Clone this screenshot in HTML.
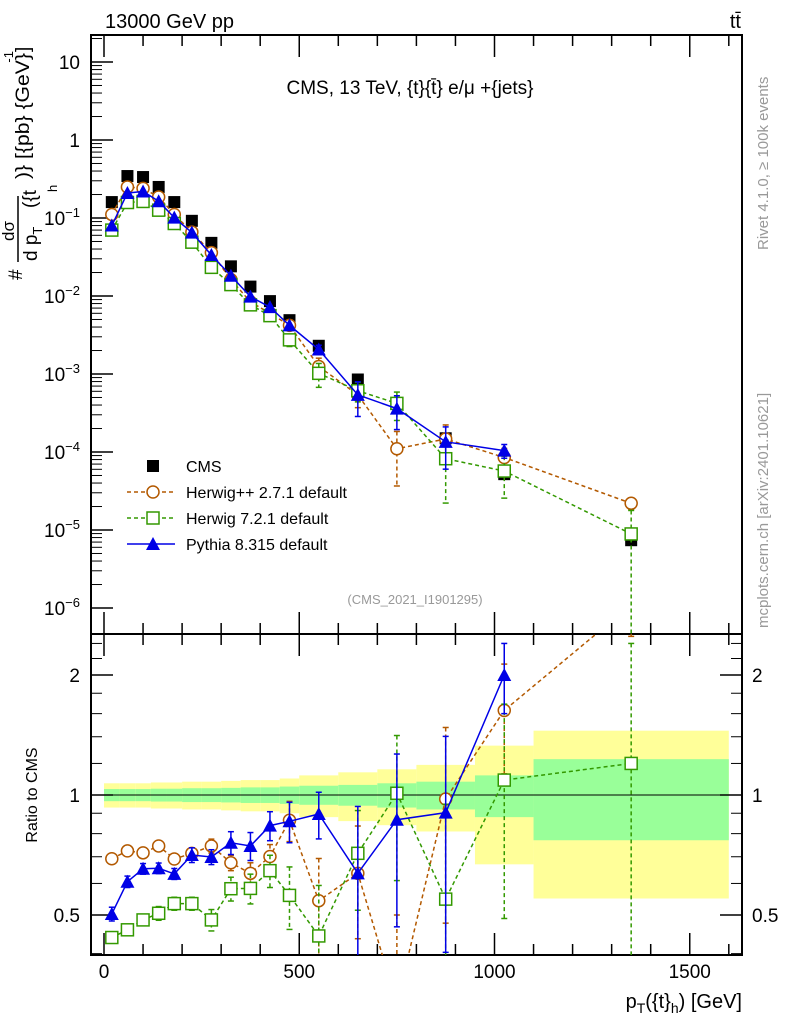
<!DOCTYPE html>
<html><head><meta charset="utf-8"><style>
html,body{margin:0;padding:0;background:#fff;}
svg text{font-family:"Liberation Sans",sans-serif;}
</style></head><body>
<svg id="chart" width="786" height="1024" xmlns="http://www.w3.org/2000/svg">
<g id="bands"></g>
<g id="grid"></g>
<g id="marks"></g>
<text x="105" y="28" font-size="20">13000 GeV pp</text>
<text x="741" y="28" font-size="20" text-anchor="end">tt̄</text>
<text x="410" y="94" font-size="19" text-anchor="middle">CMS, 13 TeV, {t}{t̄} e/μ +{jets}</text>
<text x="415" y="604" font-size="13" fill="#999" text-anchor="middle">(CMS_2021_I1901295)</text>
<text transform="translate(768,250) rotate(-90)" font-size="15" fill="#999">Rivet 4.1.0, ≥ 100k events</text>
<text transform="translate(768,628) rotate(-90)" font-size="15" fill="#999">mcplots.cern.ch [arXiv:2401.10621]</text>
<g transform="rotate(-90)">
<text x="-280" y="22" font-size="19">#</text>
<text x="-241" y="14" font-size="17">dσ</text>
<line x1="-262" x2="-196" y1="18" y2="18" stroke="#000" stroke-width="1.5"/>
<text x="-261" y="37" font-size="19">d p<tspan font-size="13" dy="5">T</tspan></text>
<text x="-208" y="36" font-size="19">({t</text>
<text x="-192" y="57" font-size="13">h</text>
<text x="-179" y="29" font-size="19" textLength="126" lengthAdjust="spacingAndGlyphs">)} [{pb} {GeV}</text>
<text x="-52" y="29" font-size="19">]</text>
<text x="-51" y="13" font-size="13" text-anchor="end">-1</text>
</g>
<text transform="translate(37,795) rotate(-90)" font-size="16" text-anchor="middle">Ratio to CMS</text>
<text x="742" y="1008" font-size="20" text-anchor="end">p<tspan font-size="14" dy="5">T</tspan><tspan dy="-5">({t}</tspan><tspan font-size="14" dy="5">h</tspan><tspan dy="-5">) [GeV]</tspan></text>
<g id="legend"></g>
</svg>
<script>
const xs=[20,60,100,140,180,225,275,325,375,425,475,550,650,750,875,1025,1350];
const edges=[0,40,80,120,160,200,250,300,350,400,450,500,600,700,800,950,1100,1600];
const cms=[0.16,0.345,0.335,0.25,0.16,0.092,0.048,0.024,0.0132,0.0086,0.0049,0.0023,0.00085,0.00042,0.00015,5.2e-5,7.4e-6];
const herwigpp=[0.111,0.25,0.24,0.186,0.111,0.066,0.036,0.0162,0.0084,0.006,0.0042,0.00125,0.00054,0.00011,0.000147,8.5e-5,2.2e-5];
const herwig7=[0.07,0.158,0.163,0.126,0.085,0.049,0.0233,0.014,0.0077,0.0056,0.00274,0.00102,0.00061,0.00042,8.2e-5,5.7e-5,8.9e-6];
const pythia=[0.08,0.209,0.219,0.164,0.101,0.065,0.0335,0.0182,0.0098,0.0072,0.0042,0.00206,0.00054,0.00036,0.000135,0.000104,null];
const rHpp=[0.692,0.724,0.716,0.745,0.691,0.714,0.745,0.676,0.636,0.701,0.864,0.543,0.636,0.3,0.977,1.63,3.0];
const rH7=[0.439,0.459,0.486,0.505,0.534,0.534,0.486,0.582,0.583,0.646,0.56,0.443,0.714,1.01,0.548,1.09,1.2];
const rPy=[0.503,0.606,0.653,0.655,0.634,0.707,0.699,0.759,0.745,0.838,0.859,0.896,0.636,0.867,0.903,2.0,null];
const eHpp=[0.01,0.01,0.01,0.01,0.02,0.02,0.03,0.03,0.04,0.05,0.1,0.15,0.2,0.2,0.5,0.5,0.5];
const eH7=[0.01,0.01,0.01,0.02,0.02,0.02,0.03,0.04,0.05,0.06,0.1,0.15,0.2,0.4,0.4,0.6,1.2];
const ePy=[0.02,0.02,0.02,0.02,0.02,0.03,0.03,0.05,0.06,0.07,0.1,0.12,0.3,0.4,0.5,0.4,0];
const bandY=[0.07,0.07,0.07,0.075,0.075,0.08,0.08,0.085,0.09,0.09,0.1,0.12,0.14,0.16,0.19,0.33,0.45];
const bandG=[0.035,0.035,0.035,0.037,0.037,0.04,0.04,0.042,0.045,0.045,0.05,0.055,0.06,0.07,0.08,0.12,0.23];
const mainTicks=[1,0,-1,-2,-3,-4,-5,-6];
const xTicks=[0,500,1000,1500];
const rTicks=[0.5,1,2];

const L=91,R=742,T=35,M=634,B=955;
const X=v=>104+v*0.3905;
const Y=v=>140-78*Math.log10(v);
const RY=v=>795-120*Math.log2(v);
const NS="http://www.w3.org/2000/svg";
function mk(p,tag,at){const e=document.createElementNS(NS,tag);for(const k in at)e.setAttribute(k,at[k]);p.appendChild(e);return e;}
const bands=document.getElementById('bands'),grid=document.getElementById('grid'),marks=document.getElementById('marks');
const clip=mk(document.getElementById('chart'),'clipPath',{id:'rc'});mk(clip,'rect',{x:L,y:M,width:R-L,height:B-M});
const clip2=mk(document.getElementById('chart'),'clipPath',{id:'mc'});mk(clip2,'rect',{x:L,y:T,width:R-L,height:M-T});
for(let i=0;i<bandY.length;i++){
 const a=X(edges[i]),b=X(edges[i+1]);
 const y=mk(bands,'rect',{x:a,y:RY(1+bandY[i]),width:b-a,height:RY(Math.max(1-bandY[i],0.4))-RY(1+bandY[i]),fill:'#ffff99'});
 
 
 const g=mk(bands,'rect',{x:a,y:RY(1+bandG[i]),width:b-a,height:RY(1-bandG[i])-RY(1+bandG[i]),fill:'#99ff99'});
 
 
}
mk(grid,'rect',{x:L,y:T,width:R-L,height:M-T,fill:'none',stroke:'#000','stroke-width':2});
mk(grid,'rect',{x:L,y:M,width:R-L,height:B-M,fill:'none',stroke:'#000','stroke-width':2});
mk(grid,'line',{x1:L,x2:R,y1:RY(1),y2:RY(1),stroke:'#000','stroke-width':1});
mainTicks.forEach(d=>{
 const y=Y(Math.pow(10,d));
 mk(grid,'line',{x1:L,x2:L+22,y1:y,y2:y,stroke:'#000','stroke-width':1.5});
 for(let k=2;k<10;k++){const yy=Y(k*Math.pow(10,d));if(yy>T&&yy<M)mk(grid,'line',{x1:L,x2:L+11,y1:yy,y2:yy,stroke:'#000'});}
 const t=mk(grid,'text',{x:80,y:y+7,'font-size':19,'text-anchor':'end'});
 
 
 if(d==1)t.textContent='10';else if(d==0)t.textContent='1';
 else{t.textContent='10';const s=mk(t,'tspan',{dy:-8,'font-size':13});s.textContent='−'+(-d);}
});
for(let v=0;v<=1600;v+=100){const x=X(v),big=v%500==0;
 mk(grid,'line',{x1:x,x2:x,y1:B,y2:B-(big?22:11),stroke:'#000','stroke-width':1.5});
 mk(grid,'line',{x1:x,x2:x,y1:M,y2:M-(big?22:11),stroke:'#000','stroke-width':1.5});
 mk(grid,'line',{x1:x,x2:x,y1:M,y2:M+(big?22:11),stroke:'#000','stroke-width':1.5});
 mk(grid,'line',{x1:x,x2:x,y1:T,y2:T+(big?22:11),stroke:'#000','stroke-width':1.5});}
xTicks.forEach(v=>{const t=mk(grid,'text',{x:X(v),y:978,'font-size':19,'text-anchor':'middle'});t.textContent=v;
 
 });
rTicks.forEach(v=>{const y=RY(v);
 mk(grid,'line',{x1:L,x2:L+22,y1:y,y2:y,stroke:'#000','stroke-width':1.5});
 mk(grid,'line',{x1:R,x2:R-22,y1:y,y2:y,stroke:'#000','stroke-width':1.5});
 [[80,'end'],[752,'start']].forEach(([x,a])=>{const t=mk(grid,'text',{x:x,y:y+7,'font-size':19,'text-anchor':a});t.textContent=v;
 
 });});
[0.4,0.6,0.7,0.8,0.9,1.2,1.4,1.6,1.8,2.2,2.4].forEach(v=>{const y=RY(v);mk(grid,'line',{x1:L,x2:L+11,y1:y,y2:y,stroke:'#000'});mk(grid,'line',{x1:R,x2:R-11,y1:y,y2:y,stroke:'#000'});});

function marker(g,type,x,y,c){
 if(type=='sq')return mk(g,'rect',{x:x-6,y:y-6,width:12,height:12,fill:'#000'});
 if(type=='circ')return mk(g,'circle',{cx:x,cy:y,r:6,fill:'#fff',stroke:c,'stroke-width':1.5});
 if(type=='osq')return mk(g,'rect',{x:x-6,y:y-6,width:12,height:12,fill:'#fff',stroke:c,'stroke-width':1.5});
 return mk(g,'polygon',{points:`${x-7},${y+6} ${x+7},${y+6} ${x},${y-7}`,fill:c});
}
function series(name,vals,ys,type,c,dash,errs,rel,clipId){
 const g=mk(marks,'g',{'clip-path':`url(#${clipId})`});
 
 
 const pts=[];vals.forEach((v,i)=>{if(v!=null)pts.push([X(xs[i]),ys(v),i]);});
 if(c!='#000')mk(g,'polyline',{points:pts.map(p=>p[0]+','+p[1]).join(' '),fill:'none',stroke:c,'stroke-width':1.5,'stroke-dasharray':dash||'none'});
 pts.forEach(p=>{
  const i=p[2];
  if(errs&&errs[i]>0){const v=vals[i];let e=errs[i];if(rel)e=v*errs[i]/rel[i];
   const lo=rel?(v-e>0?v-e:1e-9):Math.max(v-e,0.3);
   const y1=ys(v+e),y2=Math.min(ys(lo),1200);
   if(Math.abs(y2-y1)>8){
   mk(g,'line',{x1:p[0],x2:p[0],y1:y1,y2:y2,stroke:c,'stroke-width':1.5,'stroke-dasharray':dash||'none'});
   mk(g,'line',{x1:p[0]-3,x2:p[0]+3,y1:y1,y2:y1,stroke:c,'stroke-width':1.5});mk(g,'line',{x1:p[0]-3,x2:p[0]+3,y1:y2,y2:y2,stroke:c,'stroke-width':1.5});}}
  const m=marker(g,type,p[0],p[1],c);
  
  
 });
}
series('cms-data',cms,Y,'sq','#000',null,null,null,'mc');
series('herwigpp-main',herwigpp,Y,'circ','#b35900','4,3',eHpp,rHpp,'mc');
series('herwig7-main',herwig7,Y,'osq','#339900','4,3',eH7,rH7,'mc');
series('pythia-main',pythia,Y,'tri','#0000e6',null,ePy,rPy,'mc');
series('herwigpp-ratio',rHpp,RY,'circ','#b35900','4,3',eHpp,null,'rc');
series('herwig7-ratio',rH7,RY,'osq','#339900','4,3',eH7,null,'rc');
series('pythia-ratio',rPy,RY,'tri','#0000e6',null,ePy,null,'rc');

const lg=document.getElementById('legend');
[['CMS','sq','#000',null],['Herwig++ 2.7.1 default','circ','#b35900','4,3'],['Herwig 7.2.1 default','osq','#339900','4,3'],['Pythia 8.315 default','tri','#0000e6',null]].forEach((e,i)=>{
 const y=466+26*i;
 const g=mk(lg,'g',{});
 
 
 if(i>0)mk(g,'line',{x1:127,x2:175,y1:y,y2:y,stroke:e[2],'stroke-width':1.5,'stroke-dasharray':e[3]||'none'});
 marker(g,e[1],153,y,e[2]);
 const t=mk(g,'text',{x:186,y:y+6,'font-size':16});t.textContent=e[0];
});
</script>
</body></html>
